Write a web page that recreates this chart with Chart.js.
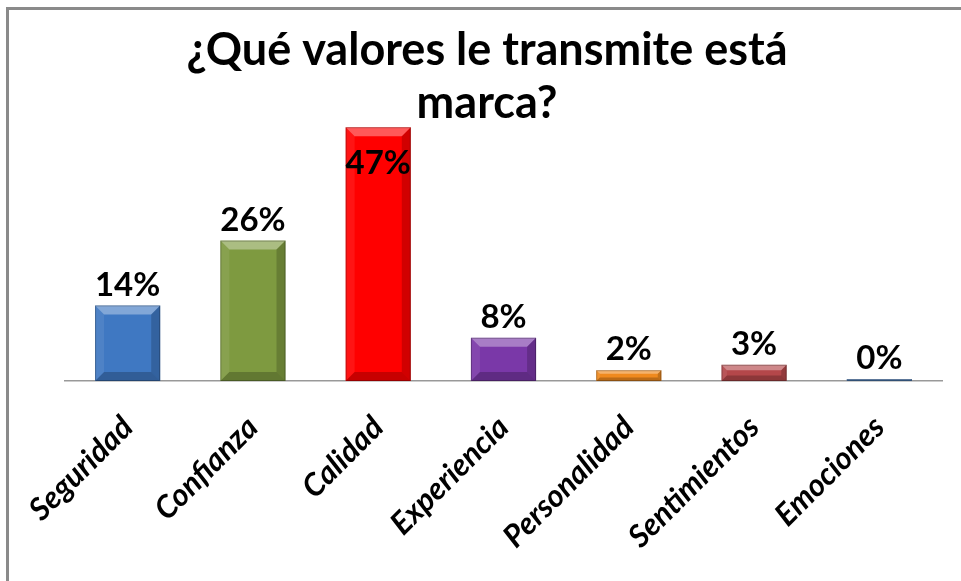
<!DOCTYPE html>
<html lang="es">
<head>
<meta charset="utf-8">
<title>¿Qué valores le transmite está marca?</title>
<script src="https://cdn.jsdelivr.net/npm/chart.js@4/dist/chart.umd.min.js"></script>
<style>
    html, body { margin: 0; padding: 0; background: #fff; }
    #wrap { position: relative; width: 961px; height: 581px; overflow: hidden; }
    #frame {
        position: absolute; left: 6px; top: 7px; width: 1000px; height: 1000px;
        border-left: 3px solid #8a8a8a; border-top: 3px solid #8a8a8a;
        pointer-events: none;
    }
    canvas { position: absolute; left: 0; top: 0; }
</style>
</head>
<body>
<div id="wrap">
    <canvas id="chartValores" width="961" height="581"></canvas>
    <div id="frame"></div>
</div>
<script>
// Datos
const titleLines = ['¿Qué valores le transmite está', 'marca?'];
const categories = ['Seguridad', 'Confianza', 'Calidad', 'Experiencia', 'Personalidad', 'Sentimientos', 'Emociones'];
const percentages = [14, 26, 47, 8, 2, 3, 0];
const barColors = ['#3f78c2', '#7e9a40', '#ff0000', '#7a38a8', '#f08a1e', '#b4474a', '#4f81bd'];

// Título dibujado a mano (centrado como en el original)
const titlePlugin = {
    id: 'titlePlugin',
    afterDraw(chart) {
        const ctx = chart.ctx;
        ctx.save();
        ctx.fillStyle = '#000';
        ctx.font = 'bold 45px Lato';
        ctx.textAlign = 'center';
        ctx.textBaseline = 'middle';
        titleLines.forEach((line, i) => {
            ctx.fillText(line, 487, 50 + i * 53);
        });
        ctx.restore();
    }
};

// Efecto bisel de las barras
const bevelPlugin = {
    id: 'bevelPlugin',
    afterDatasetsDraw(chart) {
        const ctx = chart.ctx;
        const meta = chart.getDatasetMeta(0);
        ctx.save();
        meta.data.forEach(bar => {
            const left = bar.x - bar.width / 2;
            const right = bar.x + bar.width / 2;
            const top = bar.y;
            const bottom = bar.base;
            const h = bottom - top;
            if (h < 1) return;
            const b = Math.min(9, h / 3);

            // parte superior clara
            ctx.fillStyle = 'rgba(255,255,255,0.35)';
            ctx.beginPath();
            ctx.moveTo(left, top);
            ctx.lineTo(right, top);
            ctx.lineTo(right - b, top + b);
            ctx.lineTo(left + b, top + b);
            ctx.closePath();
            ctx.fill();

            // lado izquierdo
            ctx.fillStyle = 'rgba(255,255,255,0.08)';
            ctx.beginPath();
            ctx.moveTo(left, top);
            ctx.lineTo(left + b, top + b);
            ctx.lineTo(left + b, bottom - b);
            ctx.lineTo(left, bottom);
            ctx.closePath();
            ctx.fill();

            // lado derecho
            ctx.fillStyle = 'rgba(0,0,0,0.18)';
            ctx.beginPath();
            ctx.moveTo(right, top);
            ctx.lineTo(right - b, top + b);
            ctx.lineTo(right - b, bottom - b);
            ctx.lineTo(right, bottom);
            ctx.closePath();
            ctx.fill();

            // parte inferior
            ctx.fillStyle = 'rgba(0,0,0,0.22)';
            ctx.beginPath();
            ctx.moveTo(left, bottom);
            ctx.lineTo(right, bottom);
            ctx.lineTo(right - b, bottom - b);
            ctx.lineTo(left + b, bottom - b);
            ctx.closePath();
            ctx.fill();

            ctx.strokeStyle = 'rgba(0,0,0,0.25)';
            ctx.lineWidth = 1;
            ctx.strokeRect(left + 0.5, top + 0.5, bar.width - 1, h - 1);
        });
        ctx.restore();
    }
};

// Etiquetas de porcentaje
const valueLabels = {
    id: 'valueLabels',
    afterDatasetsDraw(chart) {
        const ctx = chart.ctx;
        const meta = chart.getDatasetMeta(0);
        ctx.save();
        ctx.fillStyle = '#000';
        ctx.font = 'bold 33px Lato';
        ctx.textAlign = 'center';
        meta.data.forEach((bar, i) => {
            const text = percentages[i] + '%';
            if (bar.y - 40 < chart.chartArea.top) {
                ctx.textBaseline = 'top';
                ctx.fillText(text, bar.x, bar.y + 20);
            } else {
                ctx.textBaseline = 'bottom';
                ctx.fillText(text, bar.x, bar.y - 4);
            }
        });
        ctx.restore();
    }
};

const ctxValores = document.getElementById('chartValores').getContext('2d');
const chart = new Chart(ctxValores, {
    type: 'bar',
    data: {
        labels: categories,
        datasets: [{
            data: percentages,
            backgroundColor: barColors,
            borderWidth: 0,
            categoryPercentage: 0.52,
            barPercentage: 1,
            minBarLength: 2
        }]
    },
    options: {
        responsive: false,
        animation: false,
        layout: { padding: { left: 65, right: 19, top: 111, bottom: 0 } },
        plugins: {
            legend: { display: false },
            title: { display: false },
            tooltip: { enabled: false }
        },
        scales: {
            x: {
                grid: { display: false, drawTicks: false },
                border: { display: true, color: '#999', width: 1.5 },
                ticks: {
                    color: '#000',
                    font: { family: 'Lato', size: 31, weight: 'bold', style: 'italic' },
                    minRotation: 45,
                    maxRotation: 45,
                    padding: 28
                },
                afterFit(scale) { scale.height = 200; }
            },
            y: {
                display: false,
                min: 0,
                max: 50
            }
        }
    },
    plugins: [bevelPlugin, valueLabels, titlePlugin]
});
</script>
</body>
</html>
